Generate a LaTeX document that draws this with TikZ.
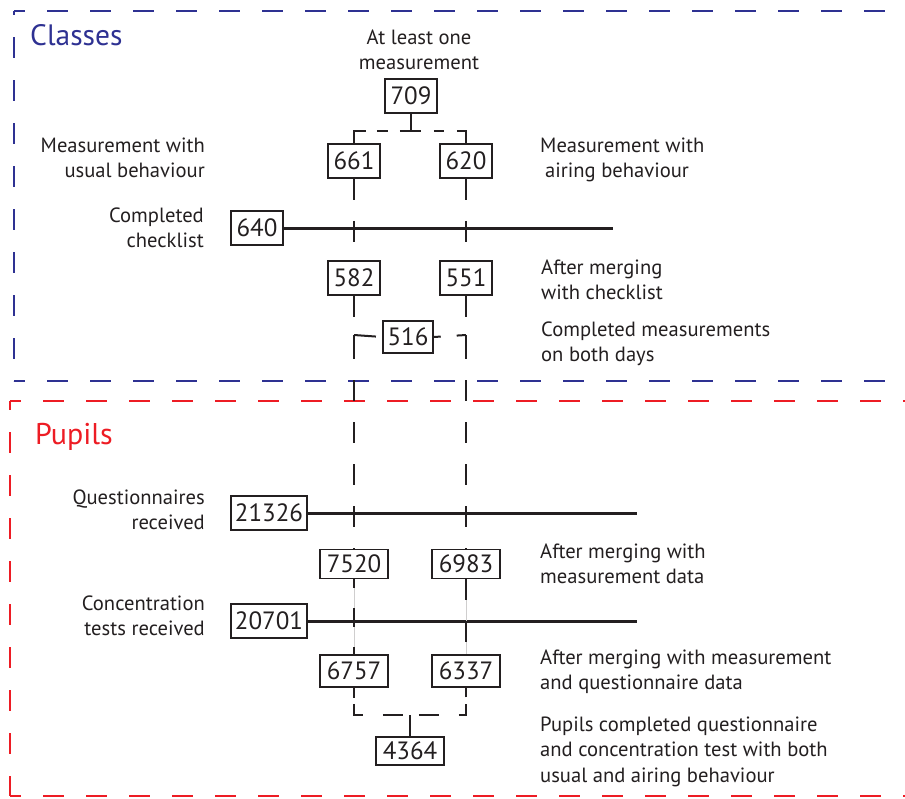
\documentclass[tikz,border=0pt]{standalone}
\usepackage{fontspec}
\setmainfont{PT Sans}
\usetikzlibrary{calc}
\definecolor{cblue}{RGB}{46,49,146}
\definecolor{cred}{RGB}{237,28,36}
\definecolor{ink}{RGB}{35,31,32}
\tikzset{
  num/.style={draw=ink, line width=1.5pt, inner sep=0pt, font=\fontsize{25}{30}\selectfont, text=ink},
  nthree/.style={num, minimum width=52pt, minimum height=34pt},
  nfour/.style={num, minimum width=68pt, minimum height=30pt},
  nfive/.style={num, minimum width=76pt, minimum height=34pt},
  lbl/.style={inner sep=0pt, font=\fontsize{20.6}{25.5}\selectfont, text=ink},
  lblR/.style={lbl, align=right, anchor=base east},
  lblL/.style={lbl, align=left, anchor=base west},
  lblC/.style={lbl, align=center, anchor=base},
  conn/.style={draw=ink, line width=2pt},
  faint/.style={draw=ink!22, line width=0.8pt},
  bar/.style={draw=ink, line width=3pt},
  frame/.style={line width=2pt, dash pattern=on 21pt off 22pt},
  title/.style={anchor=base west, inner sep=0pt},
}
\begin{document}
\begin{tikzpicture}[x=1pt,y=-1pt]
\useasboundingbox (0,0) rectangle (905,798);

% frames
\draw[frame, cblue, dash phase=10pt] (14,11) -- (925,11);
\draw[frame, cblue, dash phase=17pt] (14,11) -- (14,381);
\draw[frame, cblue, dash phase=10pt] (14,381) -- (925,381);
\draw[frame, cred, dash phase=10pt] (10,401) -- (925,401);
\draw[frame, cred, dash phase=12pt] (10,401) -- (10,796);
\draw[frame, cred, dash phase=10pt] (10,796) -- (925,796);

\node[title, text=cblue, font=\fontsize{29.5}{34}\selectfont] (classes) at (30,45) {Classes};
\node[title, text=cred, font=\fontsize{30}{34}\selectfont] (pupils) at (35,444) {Pupils};

% number boxes
\node[nthree] (n709) at (411,96) {709};
\node[nthree] (n661) at (354,161) {661};
\node[nthree] (n620) at (466,161) {620};
\node[nthree] (n640) at (257,228) {640};
\node[nthree] (n582) at (354,278) {582};
\node[nthree] (n551) at (466,278) {551};
\node[nthree, minimum width=50pt, minimum height=32pt] (n516) at (408,337) {516};
\node[nfive] (n21326) at (269,513) {21326};
\node[nfour, minimum height=29pt] (n7520) at (354,564) {7520};
\node[nfour, minimum height=29pt] (n6983) at (466,564) {6983};
\node[nfive] (n20701) at (269,621) {20701};
\node[nfour, minimum height=32pt] (n6757) at (354,671) {6757};
\node[nfour, minimum height=32pt] (n6337) at (466,671) {6337};
\node[nfour, minimum height=28pt] (n4364) at (410,751) {4364};

% labels (anchor = baseline of the last line)
\node[lblC] (l1) at (419,69.5) {At least one\\measurement};
\node[lblR] (l2) at (205,177.5) {Measurement with\\usual behaviour};
\node[lblL] (l3) at (540,177.5) {Measurement with\\\hspace*{5pt}airing behaviour};
\node[lblR] (l4) at (204,247.5) {Completed\\checklist};
\node[lblL] (l5) at (541,299.5) {After merging\\with checklist};
\node[lblL] (l6) at (541,361.5) {Completed measurements\\on both days};
\node[lblR] (l7) at (205,529.5) {Questionnaires\\received};
\node[lblL] (l8) at (540,583.5) {After merging with\\measurement data};
\node[lblR] (l9) at (205,635.5) {Concentration\\tests received};
\node[lblL] (l10) at (540,689.5) {After merging with measurement\\and questionnaire data};
\node[lblL] (l11) at (540,782) {Pupils completed questionnaire\\and concentration test with both\\usual and airing behaviour};

% coordinates
\coordinate (t1) at (411,131);
\coordinate (cL) at (354,335);
\coordinate (cR) at (466,335);
\coordinate (t2) at (410,715);
\coordinate (e640) at (613,228);
\coordinate (e21326) at (637,513);
\coordinate (e20701) at (637,621);

% top split
\draw[conn] (n709.south) -- (t1);
\draw[conn, dash pattern=on 24pt off 11pt on 11pt off 12pt on 21pt off 13pt on 10pt off 13pt on 23pt off 10pt]
  (n661.north) |- (t1) -| (n620.north);

% horizontal bars
\draw[bar] (n640.east) -- (e640);
\draw[bar] (n21326.east) -- (e21326);
\draw[bar] (n20701.east) -- (e20701);

% columns
\draw[conn, dash pattern=on 21pt off 21pt] (n661.south) -- (n582.north);
\draw[conn, dash pattern=on 21pt off 21pt] (n620.south) -- (n551.north);
\draw[conn, dash pattern=on 21pt off 30pt] (n582.south) -- (cL);
\draw[conn, dash pattern=on 21pt off 30pt] (n551.south) -- (cR);
\draw[conn, dash pattern=on 22pt off 20pt] (cL) -- (n516.west);
\draw[conn, dash pattern=on 7pt off 16pt on 10pt off 10pt] (n516.east) -- (cR);
\draw[conn, dash pattern=on 24pt off 21pt on 21pt off 21pt on 21pt off 21pt on 21pt off 21pt on 21pt off 21pt on 21pt off 21pt] (cL) -- (n7520.north);
\draw[conn, dash pattern=on 24pt off 21pt on 21pt off 21pt on 21pt off 21pt on 21pt off 21pt on 21pt off 21pt on 21pt off 21pt] (cR) -- (n6983.north);

\draw[faint] (n7520.south) -- (n6757.north);
\draw[faint] (n6983.south) -- (n6337.north);
\draw[conn, dash pattern=on 9pt off 20pt on 19pt off 20pt on 10pt off 5pt] (n7520.south) -- (n6757.north);
\draw[conn, dash pattern=on 21pt off 21pt] (n6983.south) -- (n6337.north);

% bottom merge
\draw[conn, dash pattern=on 10pt off 6pt on 20pt off 20pt on 20pt off 16pt on 20pt off 20pt on 18pt off 7pt on 11pt off 10pt]
  (n6757.south) |- (t2) -| (n6337.south);
\draw[conn] (t2) -- (n4364.north);
\end{tikzpicture}
\end{document}
